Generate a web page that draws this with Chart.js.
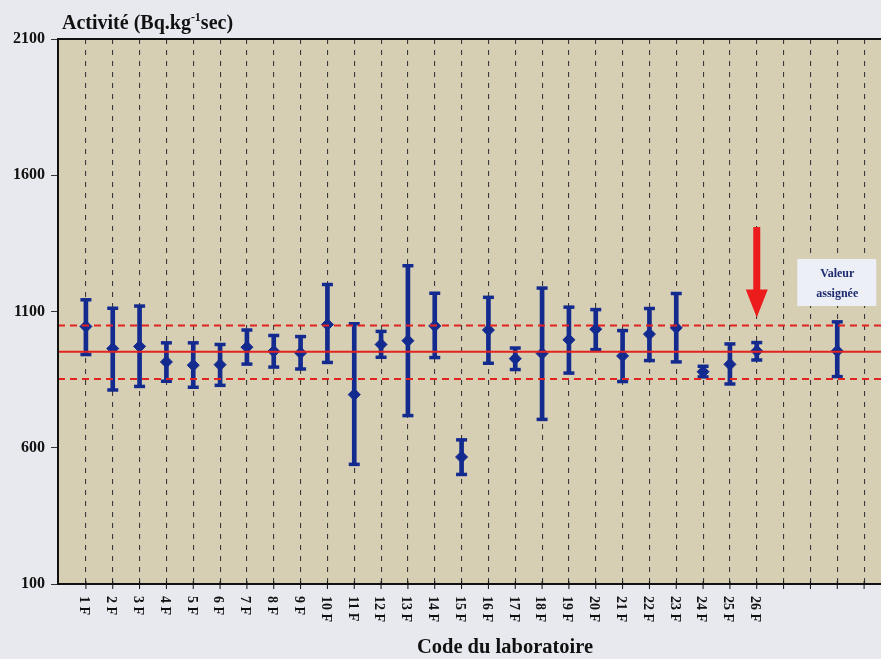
<!DOCTYPE html>
<html>
<head>
<meta charset="utf-8">
<script src="https://cdn.jsdelivr.net/npm/chart.js@4/dist/chart.umd.min.js"></script>
<style>
  html, body { margin: 0; padding: 0; background: #e8e9ef; overflow: hidden; }
  #wrap { width: 881px; height: 659px; position: relative; }
</style>
</head>
<body>
<div id="wrap"><canvas id="chart" width="881" height="659"></canvas></div>
<script>
// laboratory codes (positions 1..26 on the x axis)
const labos = ["1 F","2 F","3 F","4 F","5 F","6 F","7 F","8 F","9 F","10 F","11 F","12 F","13 F",
  "14 F","15 F","16 F","17 F","18 F","19 F","20 F","21 F","22 F","23 F","24 F","25 F","26 F"];

const moyenne = [1045, 964, 972, 915, 903, 905, 969, 954, 948, 1052, 795, 979, 993,
  1047, 566, 1032, 927, 946, 996, 1035, 937, 1017, 1040, 879, 906, 955];
const haut = [1143, 1112, 1120, 985, 985, 979, 1032, 1012, 1008, 1199, 1055, 1027, 1268,
  1167, 629, 1152, 966, 1186, 1116, 1107, 1030, 1111, 1166, 899, 981, 986];
const bas = [942, 812, 825, 844, 822, 829, 907, 896, 889, 913, 539, 932, 718,
  931, 502, 910, 887, 704, 874, 960, 843, 920, 915, 860, 834, 922];

// assigned value, drawn at position 29
const posAssignee = 29;
const valeurAssignee = 955;
const assigneeHaut = 1062;
const assigneeBas = 861;

// reference line and its limits
const reference = 952;
const limiteHaute = 1049;
const limiteBasse = 852;

const yTicks = [100, 600, 1100, 1600, 2100];
const gridPositions = [];
for (let i = 1; i <= 30; i++) gridPositions.push(i);

const navy = "#132a8f";
const rouge = "#e2231f";
const xMin = -0.04, xMax = 30.63;

const positions = labos.map((l, i) => i + 1).concat([posAssignee]);
const centres = moyenne.concat([valeurAssignee]);
const hauts = haut.concat([assigneeHaut]);
const bass = bas.concat([assigneeBas]);

const serif = "'Liberation Serif', 'DejaVu Serif', serif";

const decor = {
  id: "decor",
  beforeDraw(chart) {
    const { ctx, chartArea: a } = chart;
    ctx.save();
    ctx.fillStyle = "#d7cfb4";
    ctx.fillRect(a.left, a.top, a.right - a.left, a.bottom - a.top);
    ctx.restore();
  },
  afterDatasetsDraw(chart) {
    const { ctx, chartArea: a, scales } = chart;
    const x = scales.x, y = scales.y;
    ctx.save();
    // frame: left, top, bottom
    ctx.strokeStyle = "#111";
    ctx.lineWidth = 2;
    ctx.beginPath();
    ctx.moveTo(a.right, a.top); ctx.lineTo(a.left, a.top);
    ctx.lineTo(a.left, a.bottom); ctx.lineTo(a.right, a.bottom);
    ctx.stroke();
    // x tick marks across the axis
    ctx.lineWidth = 1;
    gridPositions.forEach(p => {
      const px = x.getPixelForValue(p);
      ctx.beginPath(); ctx.moveTo(px, a.bottom - 3); ctx.lineTo(px, a.bottom + 5); ctx.stroke();
    });

    // vertical labels
    ctx.fillStyle = "#111";
    ctx.font = "bold 14px " + serif;
    ctx.textAlign = "left";
    ctx.textBaseline = "middle";
    labos.forEach((l, i) => {
      const px = x.getPixelForValue(i + 1) - 2;
      ctx.save();
      ctx.translate(px, a.bottom + 12);
      ctx.rotate(Math.PI / 2);
      ctx.fillText(l, 0, 0);
      ctx.restore();
    });

    // axis title
    ctx.font = "bold 20.5px " + serif;
    ctx.textAlign = "center";
    ctx.textBaseline = "alphabetic";
    ctx.fillText("Code du laboratoire", 505, 653);

    // y title with superscript
    ctx.textAlign = "left";
    let tx = 62;
    ctx.font = "bold 20px " + serif;
    ctx.fillText("Activité (Bq.kg", tx, 29);
    tx += ctx.measureText("Activité (Bq.kg").width;
    ctx.font = "bold 12px " + serif;
    ctx.fillText("-1", tx, 21);
    tx += ctx.measureText("-1").width;
    ctx.font = "bold 20px " + serif;
    ctx.fillText("sec)", tx, 29);

    // red arrow pointing at 26 F
    const ax = x.getPixelForValue(26);
    const yStart = y.getPixelForValue(1410);
    const yTip = y.getPixelForValue(1078);
    ctx.fillStyle = "#ec1c1c";
    ctx.fillRect(ax - 3.5, yStart, 7, (yTip - yStart) - 26);
    ctx.beginPath();
    ctx.moveTo(ax - 11, yTip - 28);
    ctx.lineTo(ax + 11, yTip - 28);
    ctx.lineTo(ax, yTip);
    ctx.closePath();
    ctx.fill();

    // assigned value label box
    const bx = x.getPixelForValue(posAssignee);
    ctx.fillStyle = "#edeff6";
    ctx.fillRect(bx - 40, 259, 79, 47);
    ctx.fillStyle = "#1c2a6e";
    ctx.font = "bold 12px " + serif;
    ctx.textAlign = "center";
    ctx.fillText("Valeur", bx, 277);
    ctx.fillText("assignée", bx, 297);
    ctx.restore();
  }
};

new Chart(document.getElementById("chart"), {
  data: {
    datasets: [
      {
        type: "line",
        data: [{ x: xMin, y: reference }, { x: xMax, y: reference }],
        borderColor: rouge, borderWidth: 2, pointRadius: 0
      },
      {
        type: "line",
        data: [{ x: xMin, y: limiteHaute }, { x: xMax, y: limiteHaute }],
        borderColor: rouge, borderWidth: 2, borderDash: [7, 5], pointRadius: 0
      },
      {
        type: "line",
        data: [{ x: xMin, y: limiteBasse }, { x: xMax, y: limiteBasse }],
        borderColor: rouge, borderWidth: 2, borderDash: [7, 5], pointRadius: 0
      },
      {
        type: "bar",
        data: positions.map((p, i) => ({ x: p, y: [bass[i], hauts[i]] })),
        backgroundColor: navy, barThickness: 4, borderWidth: 0
      },
      {
        type: "scatter",
        data: positions.map((p, i) => ({ x: p, y: hauts[i] }))
          .concat(positions.map((p, i) => ({ x: p, y: bass[i] }))),
        pointStyle: "line", pointRadius: 5.5, borderColor: navy, borderWidth: 3.5
      },
      {
        type: "scatter",
        data: positions.map((p, i) => ({ x: p, y: centres[i] })),
        pointStyle: "rectRot", pointRadius: 6,
        backgroundColor: navy, borderColor: navy, borderWidth: 1
      }
    ]
  },
  options: {
    responsive: false,
    animation: false,
    layout: { autoPadding: false, padding: { top: 39, right: 0, left: 0, bottom: 0 } },
    plugins: { legend: { display: false }, tooltip: { enabled: false } },
    scales: {
      x: {
        type: "linear", min: xMin, max: xMax, offset: false,
        afterBuildTicks: s => { s.ticks = gridPositions.map(v => ({ value: v })); },
        afterFit: s => { s.height = 75; s.paddingLeft = 0; s.paddingRight = 0; },
        ticks: { display: false },
        border: { display: false, dash: [5, 6] },
        grid: { drawTicks: false, offset: false, color: "#3a3a3a", lineWidth: 1.1 }
      },
      y: {
        min: 100, max: 2100,
        afterBuildTicks: s => { s.ticks = yTicks.map(v => ({ value: v })); },
        afterFit: s => { s.width = 58; },
        ticks: {
          color: "#111", padding: 6,
          font: { family: serif, weight: "bold", size: 16 },
          callback: v => String(v)
        },
        border: { display: false },
        grid: { drawOnChartArea: false, drawTicks: true, tickLength: 7, tickColor: "#333" }
      }
    }
  },
  plugins: [decor]
});
</script>
</body>
</html>
